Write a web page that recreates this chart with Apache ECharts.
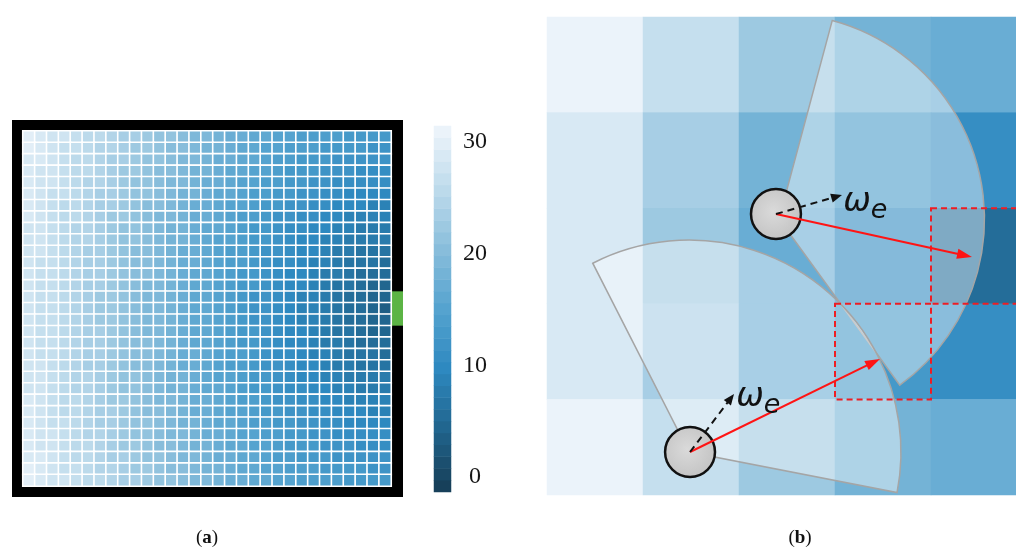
<!DOCTYPE html>
<html>
<head>
<meta charset="utf-8">
<script src="https://cdn.jsdelivr.net/npm/echarts@6/dist/echarts.min.js"></script>
<style>
html,body{margin:0;padding:0;background:#fff}
#main{width:1016px;height:550px}
</style>
</head>
<body>
<div id="main"></div>
<script>
// Static floor field of the room, row 0 at the top, column 0 at the left
const floorField = [
  [29,28,27,27,26,25,25,24,23,23,22,21,21,20,19,19,18,17,17,16,16,15,15,14,14,14,14,13,13,13,13],
  [29,28,27,26,26,25,24,24,23,22,22,21,20,20,19,18,18,17,16,16,15,15,14,14,14,13,13,13,13,12,12],
  [28,28,27,26,25,25,24,23,23,22,21,21,20,19,19,18,17,17,16,16,15,14,14,13,13,13,12,12,12,12,12],
  [28,27,27,26,25,25,24,23,22,22,21,20,20,19,18,18,17,16,16,15,15,14,13,13,13,12,12,12,11,11,11],
  [28,27,27,26,25,24,24,23,22,21,21,20,19,19,18,17,17,16,15,15,14,14,13,13,12,12,11,11,11,11,11],
  [28,27,26,26,25,24,23,23,22,21,21,20,19,18,18,17,16,16,15,14,14,13,13,12,12,11,11,10,10,10,10],
  [28,27,26,25,25,24,23,23,22,21,20,20,19,18,17,17,16,15,15,14,13,13,12,12,11,11,10,10,10,9,9],
  [28,27,26,25,25,24,23,22,22,21,20,19,19,18,17,17,16,15,14,14,13,12,12,11,11,10,10,9,9,9,9],
  [27,27,26,25,24,24,23,22,21,21,20,19,18,18,17,16,16,15,14,13,13,12,11,11,10,10,9,9,8,8,8],
  [27,27,26,25,24,24,23,22,21,21,20,19,18,18,17,16,15,15,14,13,13,12,11,10,10,9,9,8,8,8,8],
  [27,27,26,25,24,23,23,22,21,20,20,19,18,17,17,16,15,14,14,13,12,12,11,10,10,9,8,8,7,7,7],
  [27,26,26,25,24,23,23,22,21,20,20,19,18,17,17,16,15,14,14,13,12,11,11,10,9,9,8,7,7,7,6],
  [27,26,26,25,24,23,23,22,21,20,20,19,18,17,16,16,15,14,13,13,12,11,10,10,9,8,8,7,6,6,6],
  [27,26,26,25,24,23,23,22,21,20,19,19,18,17,16,16,15,14,13,13,12,11,10,10,9,8,7,7,6,5,5],
  [27,26,26,25,24,23,22,22,21,20,19,19,18,17,16,16,15,14,13,12,12,11,10,9,9,8,7,6,6,5,5],
  [27,26,26,25,24,23,22,22,21,20,19,19,18,17,16,16,15,14,13,12,12,11,10,9,9,8,7,6,6,5,4],
  [27,26,26,25,24,23,22,22,21,20,19,19,18,17,16,16,15,14,13,12,12,11,10,9,9,8,7,6,6,5,5],
  [27,26,26,25,24,23,23,22,21,20,19,19,18,17,16,16,15,14,13,13,12,11,10,10,9,8,7,7,6,5,5],
  [27,26,26,25,24,23,23,22,21,20,20,19,18,17,16,16,15,14,13,13,12,11,10,10,9,8,8,7,6,6,6],
  [27,26,26,25,24,23,23,22,21,20,20,19,18,17,17,16,15,14,14,13,12,11,11,10,9,9,8,7,7,7,6],
  [27,27,26,25,24,23,23,22,21,20,20,19,18,17,17,16,15,14,14,13,12,12,11,10,10,9,8,8,7,7,7],
  [27,27,26,25,24,24,23,22,21,21,20,19,18,18,17,16,15,15,14,13,13,12,11,10,10,9,9,8,8,8,8],
  [27,27,26,25,24,24,23,22,21,21,20,19,18,18,17,16,16,15,14,13,13,12,11,11,10,10,9,9,8,8,8],
  [28,27,26,25,25,24,23,22,22,21,20,19,19,18,17,17,16,15,14,14,13,12,12,11,11,10,10,9,9,9,9],
  [28,27,26,25,25,24,23,23,22,21,20,20,19,18,17,17,16,15,15,14,13,13,12,12,11,11,10,10,10,9,9],
  [28,27,26,26,25,24,23,23,22,21,21,20,19,18,18,17,16,16,15,14,14,13,13,12,12,11,11,10,10,10,10],
  [28,27,27,26,25,24,24,23,22,21,21,20,19,19,18,17,17,16,15,15,14,14,13,13,12,12,11,11,11,11,11],
  [28,27,27,26,25,25,24,23,22,22,21,20,20,19,18,18,17,16,16,15,15,14,13,13,13,12,12,12,11,11,11],
  [28,28,27,26,25,25,24,23,23,22,21,21,20,19,19,18,17,17,16,16,15,14,14,13,13,13,12,12,12,12,12],
  [29,28,27,26,26,25,24,24,23,22,22,21,20,20,19,18,18,17,16,16,15,15,14,14,14,13,13,13,13,12,12],
  [29,28,27,27,26,25,25,24,23,23,22,21,21,20,19,19,18,17,17,16,16,15,15,14,14,14,14,13,13,13,13]
];
// Rows of the right wall taken by the exit
const exitRows = [14, 15, 16];

// Colour bar levels and labelled ticks
const colorbarLevels = [0,1,2,3,4,5,6,7,8,9,10,11,12,13,14,15,16,17,18,19,20,21,22,23,24,25,26,27,28,29,30];
const colorbarTicks = [0, 10, 20, 30];

// Close-up of the field near the exit (5 x 5 cells)
const zoomField = [
  [30, 26, 22, 18, 17],
  [28, 23, 18, 13, 11],
  [28, 22, 17, 10, 6],
  [28, 23, 17, 13, 11],
  [30, 26, 22, 18, 17]
];
// Pedestrians, in close-up cell units (x right, y down)
const agents = [[2.385, 2.061], [1.490, 4.550]];
// Tips of the desired-direction (omega_e) arrows
const headings = [[3.073, 1.862], [1.948, 3.944]];
// Tips of the arrows to the chosen cells
const targets = [[4.427, 2.510], [3.469, 3.577]];
// Fields of view: apex x, apex y, radius, start angle, end angle (degrees, clockwise from east)
const fovSectors = [
  [2.417, 2.113, 2.140, -75, 54],
  [1.479, 4.551, 2.208, -117, 11]
];
// Candidate cells outlined in red: [column, row]
const candidateCells = [[4, 2], [3, 3]];
// Anchors of the omega_e labels
const weightLabels = [[3.229, 1.935], [2.115, 3.975]];

// ---- layout ----
const A = {left: 23, top: 131, width: 368, height: 355};
const FRAME = 11;
const CB = {left: 434, top: 126, width: 17, height: 366};
const CB_LABELS = {top: 142, height: 335, dx: 24};
const B = {left: 547, top: 17, width: 480, height: 478};
const AGENT_R = 0.26;

const nRows = floorField.length, nCols = floorField[0].length;
const zRows = zoomField.length, zCols = zoomField[0].length;
const cellH = A.height / nRows;
const idx = n => Array.from({length: n}, (_, i) => String(i));

const fieldData = [];
floorField.forEach((row, r) => row.forEach((v, c) => fieldData.push([c, r, v])));
const zoomData = [];
zoomField.forEach((row, r) => row.forEach((v, c) => zoomData.push([c, r, v])));
const cbData = colorbarLevels.map((v, k) => [0, k, v]);
const tickData = colorbarTicks.map(v => [1, v]);

function arrow(p0, p1, color, width, dash, headLen, headW) {
  const dx = p1[0] - p0[0], dy = p1[1] - p0[1];
  const L = Math.hypot(dx, dy), ux = dx / L, uy = dy / L;
  const bx = p1[0] - ux * headLen, by = p1[1] - uy * headLen;
  return [
    {type: 'line', shape: {x1: p0[0], y1: p0[1], x2: bx + ux, y2: by + uy},
     style: {stroke: color, lineWidth: width, lineDash: dash}},
    {type: 'polygon', shape: {points: [p1, [bx - uy * headW / 2, by + ux * headW / 2], [bx + uy * headW / 2, by - ux * headW / 2]]},
     style: {fill: color}}
  ];
}

function renderOverlay(params, api) {
  const unit = api.size([1, 0])[0];
  const kids = [];
  fovSectors.forEach(s => {
    const c = api.coord([s[0], s[1]]);
    kids.push({type: 'sector',
      shape: {cx: c[0], cy: c[1], r: s[2] * unit, r0: 0,
              startAngle: s[3] * Math.PI / 180, endAngle: s[4] * Math.PI / 180, clockwise: true},
      style: {fill: 'rgba(255,255,255,0.42)', stroke: '#a5a5a5', lineWidth: 1.5}});
  });
  candidateCells.forEach(cell => {
    const p0 = api.coord([cell[0], cell[1]]), p1 = api.coord([cell[0] + 1, cell[1] + 1]);
    kids.push({type: 'rect', shape: {x: p0[0], y: p0[1], width: p1[0] - p0[0], height: p1[1] - p0[1]},
      style: {fill: 'none', stroke: '#ee1d23', lineWidth: 2, lineDash: [6, 4]}});
  });
  agents.forEach(a => {
    const c = api.coord(a);
    kids.push({type: 'circle', shape: {cx: c[0], cy: c[1], r: AGENT_R * unit},
      style: {fill: {type: 'radial', x: 0.45, y: 0.45, r: 0.6,
                     colorStops: [{offset: 0, color: '#dadada'}, {offset: 1, color: '#c2c2c2'}]},
              stroke: '#111', lineWidth: 2.5}});
  });
  agents.forEach((a, i) => {
    const c = api.coord(a);
    kids.push(...arrow(c, api.coord(targets[i]), '#ff1414', 2, null, 15, 10));
    kids.push(...arrow(c, api.coord(headings[i]), '#111', 2, [7, 5], 11, 9));
  });
  weightLabels.forEach(p => {
    const c = api.coord(p);
    kids.push({type: 'text', x: c[0], y: c[1],
      style: {text: 'ω', fontSize: 33, fontStyle: 'italic', fontFamily: 'DejaVu Sans', fill: '#111',
              align: 'center', verticalAlign: 'middle'}});
    kids.push({type: 'text', x: c[0] + 22, y: c[1] + 9,
      style: {text: 'e', fontSize: 27, fontStyle: 'italic', fontFamily: 'DejaVu Sans', fill: '#111',
              align: 'center', verticalAlign: 'middle'}});
  });
  return {type: 'group', children: kids};
}

// Tick labels of the colour bar, placed on its value scale
function renderTick(params, api) {
  const p = api.coord([api.value(0), api.value(1)]);
  return {type: 'text', x: p[0] + CB_LABELS.dx, y: p[1],
    style: {text: String(api.value(1)), fontFamily: 'Liberation Serif', fontSize: 24, fill: '#161616',
            align: 'center', verticalAlign: 'middle'}};
}

const hidden = {show: false};
const fixedGrid = g => Object.assign({outerBoundsMode: 'none', containLabel: false}, g);
const chart = echarts.init(document.getElementById('main'), null, {renderer: 'canvas'});
chart.setOption({
  animation: false,
  backgroundColor: '#fff',
  grid: [
    fixedGrid({left: A.left, top: A.top, width: A.width, height: A.height}),
    fixedGrid({left: CB.left, top: CB.top, width: CB.width, height: CB.height}),
    fixedGrid({left: B.left, top: B.top, width: B.width, height: B.height}),
    fixedGrid({left: B.left, top: B.top, width: B.width, height: B.height}),
    fixedGrid({left: CB.left, top: CB_LABELS.top, width: CB.width, height: CB_LABELS.height})
  ],
  xAxis: [
    {type: 'category', gridIndex: 0, data: idx(nCols), show: false},
    {type: 'category', gridIndex: 1, data: ['0'], show: false},
    {type: 'category', gridIndex: 2, data: idx(zCols), show: false},
    {type: 'value', gridIndex: 3, min: 0, max: zCols, show: false},
    {type: 'value', gridIndex: 4, min: 0, max: 1, show: false}
  ],
  yAxis: [
    {type: 'category', gridIndex: 0, data: idx(nRows), inverse: true, show: false},
    {type: 'category', gridIndex: 1, data: colorbarLevels.map(String), show: false},
    {type: 'category', gridIndex: 2, data: idx(zRows), inverse: true, show: false},
    {type: 'value', gridIndex: 3, min: 0, max: zRows, inverse: true, show: false},
    {type: 'value', gridIndex: 4, min: colorbarTicks[0], max: colorbarTicks[colorbarTicks.length - 1], show: false}
  ],
  visualMap: {
    type: 'continuous', show: false, min: 0, max: 30, seriesIndex: [0, 1, 2],
    inRange: {color: ['#17405a', '#21668f', '#2e89c0', '#55a3cf', '#88bddb', '#bcdaeb', '#ebf3fa']}
  },
  series: [
    {type: 'heatmap', xAxisIndex: 0, yAxisIndex: 0, data: fieldData,
     itemStyle: {borderColor: '#ffffff', borderWidth: 1.6}, emphasis: {disabled: true}},
    {type: 'heatmap', xAxisIndex: 1, yAxisIndex: 1, data: cbData, emphasis: {disabled: true}},
    {type: 'heatmap', xAxisIndex: 2, yAxisIndex: 2, data: zoomData, emphasis: {disabled: true}},
    {type: 'custom', xAxisIndex: 3, yAxisIndex: 3, data: [[0, 0]], z: 5, silent: true,
     renderItem: renderOverlay},
    {type: 'custom', xAxisIndex: 4, yAxisIndex: 4, data: tickData, silent: true, clip: false,
     renderItem: renderTick}
  ],
  graphic: [
    {type: 'rect', z: -1, shape: {x: A.left - FRAME, y: A.top - FRAME,
      width: A.width + 2 * FRAME + 1, height: A.height + 2 * FRAME}, style: {fill: '#000'}},
    {type: 'rect', z: 1, shape: {x: A.left + A.width, y: A.top + exitRows[0] * cellH,
      width: FRAME + 1, height: exitRows.length * cellH}, style: {fill: '#5cb445'}},
    {type: 'text', x: 207, y: 538, style: {
      text: '{n|(}{b|a}{n|)}', align: 'center', verticalAlign: 'middle',
      rich: {n: {fontFamily: 'Liberation Serif', fontSize: 19, fill: '#111'},
             b: {fontFamily: 'Liberation Serif', fontSize: 19, fontWeight: 'bold', fill: '#111'}}}},
    {type: 'text', x: 800, y: 538, style: {
      text: '{n|(}{b|b}{n|)}', align: 'center', verticalAlign: 'middle',
      rich: {n: {fontFamily: 'Liberation Serif', fontSize: 19, fill: '#111'},
             b: {fontFamily: 'Liberation Serif', fontSize: 19, fontWeight: 'bold', fill: '#111'}}}}
  ]
});
</script>
</body>
</html>
